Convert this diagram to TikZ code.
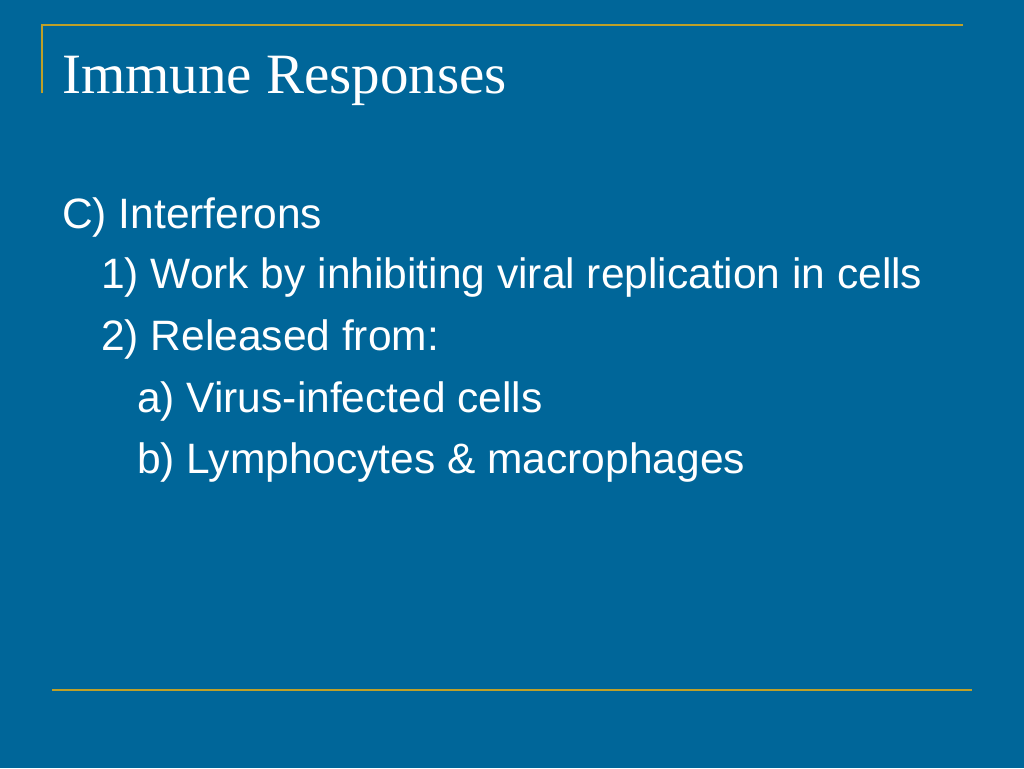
\documentclass[tikz,border=0pt]{standalone}
\usepackage{fontspec}
\setmainfont{Liberation Sans}
\newfontfamily\titlefont{Liberation Serif}
\definecolor{bg}{RGB}{0,102,153}
\definecolor{gold}{RGB}{190,160,40}
\begin{document}
\begin{tikzpicture}[x=1pt,y=-1pt,
  line/.style={draw=gold,line width=2pt},
  body/.style={anchor=base west,inner sep=0pt,text=white,font=\fontsize{42.5}{46}\selectfont}]
\fill[bg] (0,0) rectangle (1024,768);
\useasboundingbox (0,0) rectangle (1024,768);
\coordinate (t1) at (42,25); \coordinate (t2) at (963,25); \coordinate (t3) at (42,93);
\draw[line] (t3) -- (t1) -- (t2);
\coordinate (b1) at (52,690); \coordinate (b2) at (972,690);
\draw[line] (b1) -- (b2);
\node[anchor=base west,inner sep=0pt,text=white,font=\titlefont\fontsize{57}{60}\selectfont] (title) at (62,93) {Immune Responses};
\node[body] (l1) at (62,228) {C) Interferons};
\node[body] (l2) at (101,288) {1) Work by inhibiting viral replication in cells};
\node[body] (l3) at (101,350) {2) Released from:};
\node[body] (l4) at (137,412) {a) Virus-infected cells};
\node[body] (l5) at (137,473) {b) Lymphocytes \& macrophages};
\end{tikzpicture}
\end{document}
